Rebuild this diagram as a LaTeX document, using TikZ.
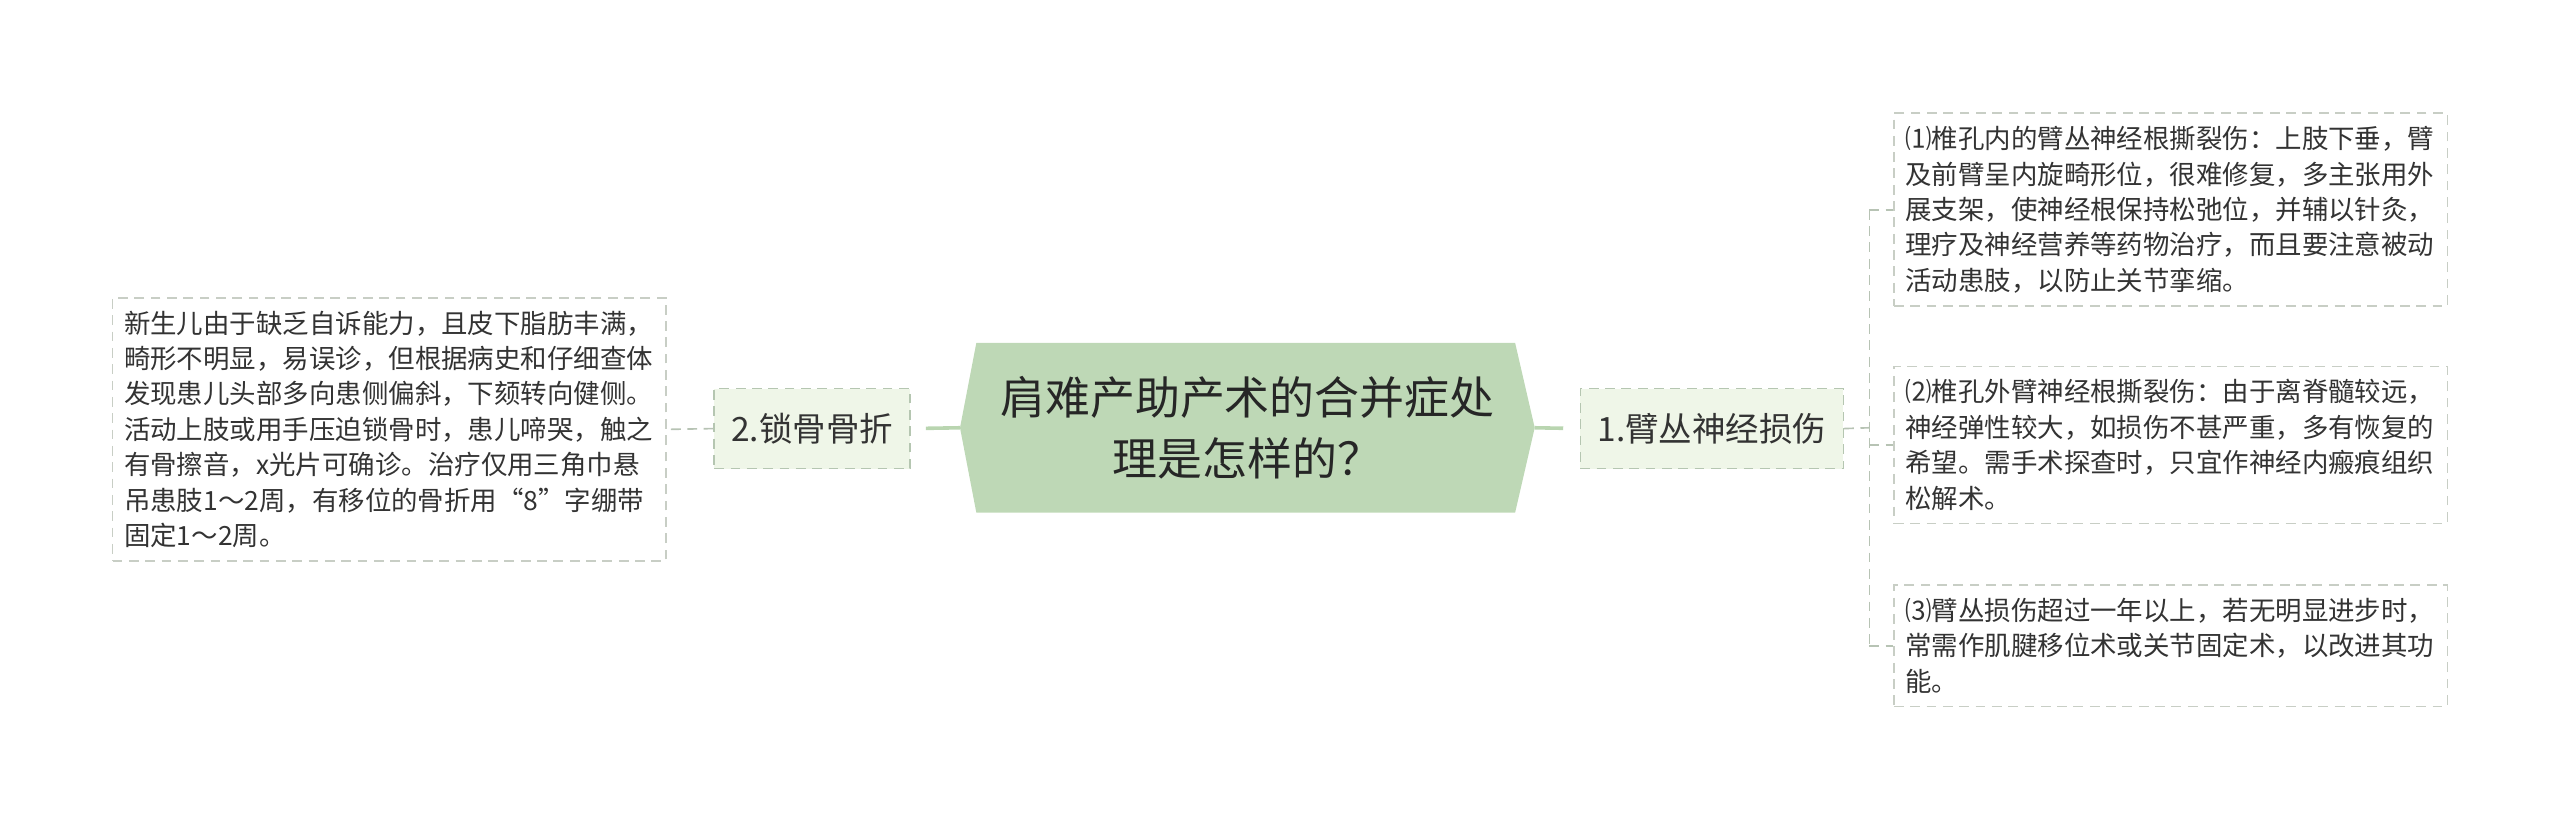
\documentclass[tikz,border=0pt]{standalone}
\usepackage{fontspec}
\setmainfont{Noto Sans CJK SC}
\usetikzlibrary{positioning}
\definecolor{sage}{HTML}{BED8B6}
\definecolor{branchfill}{HTML}{EFF6E8}
\definecolor{branchline}{HTML}{B5C6B1}
\definecolor{leafline}{HTML}{C8CEC5}
\definecolor{linkgreen}{HTML}{B9D5B0}
\definecolor{linkgray}{HTML}{B7C3B4}
\definecolor{txt}{HTML}{333333}
\tikzset{>=stealth}
\tikzset{
  leaf/.style={draw=leafline, line width=1pt, dash pattern=on 6pt off 4pt, fill=white, text=txt,
    align=left, text width=325pt, inner xsep=7pt, inner ysep=8pt, font=\fontsize{16.2}{21.7}\selectfont},
  branch/.style={draw=branchline, line width=1pt, dash pattern=on 6pt off 4pt, fill=branchfill, text=txt,
    minimum height=49pt, inner xsep=10.5pt, font=\fontsize{20.5}{24}\selectfont},
  thicklink/.style={draw=linkgreen, line width=2.2pt},
  dashlink/.style={draw=linkgray, line width=1pt, dash pattern=on 6pt off 4pt}
}

\begin{document}
\begin{tikzpicture}[x=1pt, y=-1pt]
\useasboundingbox (0,0) rectangle (1568,504);
\coordinate (pl) at (588,262);
\coordinate (tl) at (598,210);
\coordinate (tr) at (928,210);
\coordinate (pr) at (940,262);
\coordinate (br) at (928,314);
\coordinate (bl) at (598,314);
\fill[sage] (pl) -- (tl) -- (tr) -- (pr) -- (br) -- (bl) -- cycle;
\node (title) at (764,262) [align=center, text=black!85, font=\fontsize{27.5}{37}\selectfont] {肩难产助产术的合并症处\\理是怎样的？};
\node[branch] (fracture) at (497.5,262.5) {2.锁骨骨折};
\node[branch] (plexus) at (1048.5,262.5) {1.臂丛神经损伤};
\node[leaf] (note) at (238.5,263) {新生儿由于缺乏自诉能力，且皮下脂肪丰满，\\畸形不明显，易误诊，但根据病史和仔细查体\\发现患儿头部多向患侧偏斜，下颏转向健侧。\\活动上肢或用手压迫锁骨时，患儿啼哭，触之\\有骨擦音，x光片可确诊。治疗仅用三角巾悬\\吊患肢1～2周，有移位的骨折用“8”字绷带\\固定1～2周。};
\node[leaf] (one) at (1329.5,128.5) {⑴椎孔内的臂丛神经根撕裂伤：上肢下垂，臂\\及前臂呈内旋畸形位，很难修复，多主张用外\\展支架，使神经根保持松弛位，并辅以针灸，\\理疗及神经营养等药物治疗，而且要注意被动\\活动患肢，以防止关节挛缩。};
\node[leaf] (two) at (1329.5,272.5) {⑵椎孔外臂神经根撕裂伤：由于离脊髓较远，\\神经弹性较大，如损伤不甚严重，多有恢复的\\希望。需手术探查时，只宜作神经内瘢痕组织\\松解术。};
\node[leaf] (three) at (1329.5,395.5) {⑶臂丛损伤超过一年以上，若无明显进步时，\\常需作肌腱移位术或关节固定术，以改进其功\\能。};
\draw[thicklink, shorten >=9pt] (pl) -- (fracture.east);
\draw[thicklink, shorten >=10pt] (pr) -- (plexus.west);
\draw[dashlink] (fracture.west) -- (note.east);
\coordinate (bus) at (1145,262);
\draw[dashlink] (plexus.east) -- (bus);
\draw[dashlink] (bus |- one.west) -- (bus |- three.west);
\foreach \n in {one,two,three}
\draw[dashlink] (bus |- \n.west) -- (\n.west);
\end{tikzpicture}
\end{document}
